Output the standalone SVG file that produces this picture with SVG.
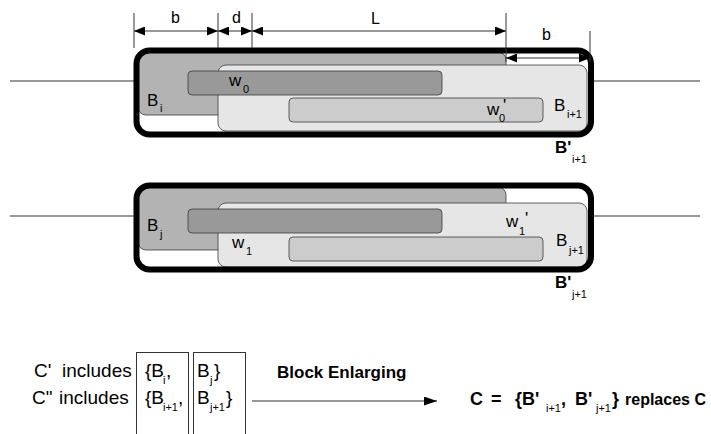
<svg xmlns="http://www.w3.org/2000/svg" width="711" height="434" viewBox="0 0 711 434">
<defs>
<marker id="ah" markerUnits="userSpaceOnUse" markerWidth="11" markerHeight="9" refX="11" refY="4.5" orient="auto-start-reverse"><path d="M0,0 L11,4.5 L0,9 z" fill="#000"/></marker>
<marker id="ah2" markerUnits="userSpaceOnUse" markerWidth="13" markerHeight="9" refX="13" refY="4.5" orient="auto"><path d="M0,0 L13,4.5 L0,9 z" fill="#000"/></marker>
</defs>
<style>
.t{font-family:"Liberation Sans",Arial,sans-serif;fill:#000}
.lab{font-size:17px}
.dl{font-size:16px}
.sub{font-size:11px}
.big{font-size:19px}
.res{font-size:18px;font-weight:bold}
.bold{font-weight:bold}
.blkA{fill:#b3b3b3;stroke:#3a3a3a;stroke-width:0.8}
.blkB{fill:#e6e6e6;stroke:#3a3a3a;stroke-width:0.8}
.win0{fill:#999999;stroke:#3a3a3a;stroke-width:0.8}
.win1{fill:#cccccc;stroke:#3a3a3a;stroke-width:0.8}
.outer{fill:none;stroke:#000;stroke-width:6}
.dim{stroke:#333;stroke-width:1;fill:none}
.conn{stroke:#333;stroke-width:1;fill:none}
.box{fill:none;stroke:#333;stroke-width:1}
</style>
<rect width="711" height="434" fill="#fff"/>

<g id="connectors">
<line class="conn" x1="10" y1="81" x2="134" y2="81"/>
<line class="conn" x1="593" y1="81" x2="700" y2="81"/>
<line class="conn" x1="10" y1="216" x2="134" y2="216"/>
<line class="conn" x1="593" y1="216" x2="700" y2="216"/>
<line class="conn" x1="252" y1="401" x2="437" y2="401" marker-end="url(#ah2)"/>
</g>

<g id="top-diagram">
<g id="B_i"><rect class="blkA" x="138" y="52" width="368" height="63" rx="8"/></g>
<g id="B_i1"><rect class="blkB" x="218" y="65" width="369" height="66" rx="8"/></g>
<g id="w0"><rect class="win0" x="188" y="71" width="254" height="24" rx="4"/></g>
<g id="w0p"><rect class="win1" x="289" y="98" width="254" height="24" rx="4"/></g>
<g id="Bp_i1"><rect class="outer" x="136.5" y="50.5" width="454.5" height="84" rx="13"/></g>
<g id="top-labels">
<text class="t lab" x="147" y="106">B</text><text class="t sub" x="160" y="112">i</text>
<text class="t lab" x="229" y="86">w</text><text class="t sub" x="243" y="93">0</text>
<text class="t lab" x="487" y="115">w</text><text class="t lab" x="503" y="111">'</text><text class="t sub" x="499" y="122">0</text>
<text class="t lab" x="554" y="111">B</text><text class="t sub" x="567" y="118">i+1</text>
<text class="t lab bold" x="555" y="153">B'</text><text class="t sub" x="572" y="163">i+1</text>
</g>
</g>

<g id="dimensions">
<line class="dim" x1="134" y1="13" x2="134" y2="48"/>
<line class="dim" x1="218" y1="13" x2="218" y2="48"/>
<line class="dim" x1="252" y1="13" x2="252" y2="48"/>
<line class="dim" x1="506" y1="13" x2="506" y2="62"/>
<line class="dim" x1="590" y1="31" x2="590" y2="62"/>
<line class="dim" x1="134" y1="31" x2="218" y2="31" marker-start="url(#ah)" marker-end="url(#ah)"/>
<line class="dim" x1="218" y1="31" x2="252" y2="31" marker-start="url(#ah)" marker-end="url(#ah)"/>
<line class="dim" x1="252" y1="31" x2="506" y2="31" marker-start="url(#ah)" marker-end="url(#ah)"/>
<line class="dim" x1="506" y1="58" x2="590" y2="58" marker-start="url(#ah)" marker-end="url(#ah)"/>
<text class="t dl" x="171" y="23">b</text>
<text class="t dl" x="232" y="23">d</text>
<text class="t dl" x="371" y="24">L</text>
<text class="t dl" x="542" y="40">b</text>
</g>

<g id="bottom-diagram">
<g id="B_j"><rect class="blkA" x="138" y="187" width="368" height="63" rx="8"/></g>
<g id="B_j1"><rect class="blkB" x="218" y="203" width="369" height="64" rx="8"/></g>
<g id="w1"><rect class="win0" x="188" y="209" width="254" height="24" rx="4"/></g>
<g id="w1p"><rect class="win1" x="289" y="237" width="254" height="24" rx="4"/></g>
<g id="Bp_j1"><rect class="outer" x="136.5" y="185.5" width="454.5" height="84" rx="13"/></g>
<g id="bottom-labels">
<text class="t lab" x="147" y="231">B</text><text class="t sub" x="160" y="238">j</text>
<text class="t lab" x="232" y="248">w</text><text class="t sub" x="246" y="255">1</text>
<text class="t lab" x="506" y="227">w</text><text class="t lab" x="525" y="224">'</text><text class="t sub" x="519" y="235">1</text>
<text class="t lab" x="556" y="246">B</text><text class="t sub" x="569" y="254">j+1</text>
<text class="t lab bold" x="555" y="288">B'</text><text class="t sub" x="572" y="298">j+1</text>
</g>
</g>

<g id="summary">
<text class="t big" x="34" y="377">C'</text><text class="t big" x="62" y="377">includes</text>
<text class="t big" x="32" y="404">C"</text><text class="t big" x="59" y="404">includes</text>
<g id="set-left">
<rect class="box" x="136.5" y="352.5" width="52" height="90"/>
<text class="t big" x="145" y="377">{B</text><text class="t sub" x="163" y="384">i</text><text class="t big" x="166" y="377">,</text>
<text class="t big" x="145" y="404">{B</text><text class="t sub" x="163" y="411">i+1</text><text class="t big" x="178" y="404">,</text>
</g>
<g id="set-right">
<rect class="box" x="193.5" y="352.5" width="52" height="90"/>
<text class="t big" x="197" y="377">B</text><text class="t sub" x="210" y="384">j</text><text class="t big" x="214" y="377">}</text>
<text class="t big" x="197" y="404">B</text><text class="t sub" x="210" y="411">j+1</text><text class="t big" x="226" y="404">}</text>
</g>
<text class="t bold" style="font-size:17px" x="277" y="378">Block Enlarging</text>
<g id="result">
<text class="t res" x="470" y="405">C</text><text class="t res" x="491" y="405">=</text>
<text class="t res" x="515" y="405">{B'</text><text class="t sub" x="546" y="412">i+1</text><text class="t res" x="561" y="405">,</text>
<text class="t res" x="575" y="405">B'</text><text class="t sub" x="596" y="412">j+1</text><text class="t res" x="612" y="405">}</text>
<text class="t bold" style="font-size:16px" x="625" y="405">replaces C</text>
</g>
</g>
</svg>
